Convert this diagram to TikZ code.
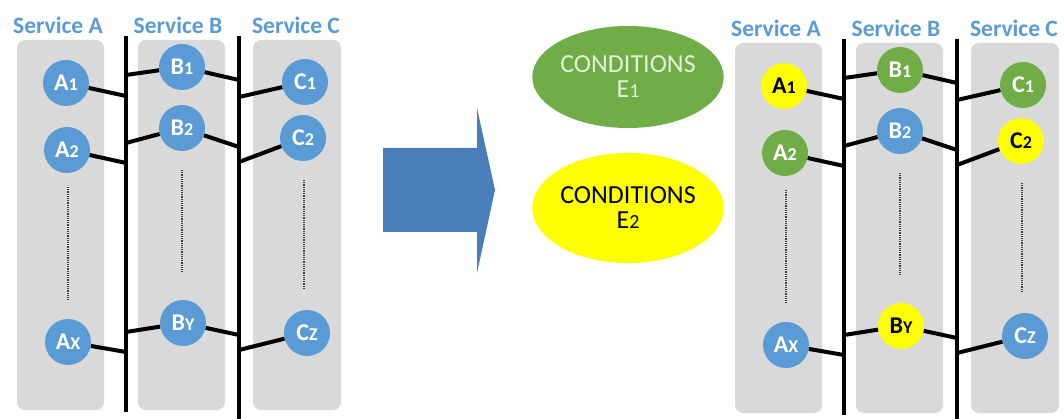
\documentclass[tikz,border=0pt]{standalone}
\usepackage{fontspec}
\setmainfont{Carlito}
\usetikzlibrary{shapes.geometric}

\definecolor{svcblue}{HTML}{5B9BD5}
\definecolor{svcgreen}{HTML}{70AD47}
\definecolor{svcyellow}{HTML}{FFFF00}
\definecolor{panelgray}{HTML}{D9D9D9}
\definecolor{arrowblue}{HTML}{4A7EBB}
\definecolor{paletext}{HTML}{E6F0DC}

% smaller index after the service letter
\newcommand\idx[1]{{\fontsize{18}{18}\selectfont #1}}
\newcommand\cidx[1]{{\fontsize{20}{20}\selectfont #1}}

\tikzset{
  panel/.style={fill=panelgray, draw=none, rounded corners=8pt},
  title/.style={text=svcblue, font=\fontsize{23.5}{23.5}\selectfont\bfseries, inner sep=0pt},
  svc/.style={circle, minimum size=46pt, inner sep=0pt, draw=none,
              font=\fontsize{24}{24}\selectfont\bfseries},
  bluesvc/.style={svc, fill=svcblue, text=white},
  greensvc/.style={svc, fill=svcgreen, text=white},
  yellowsvc/.style={svc, fill=svcyellow, text=black},
  bus/.style={line width=4.2pt, black},
  link/.style={line width=4pt, black},
  dots/.style={line width=1.5pt, gray!50!black, dash pattern=on 1.2pt off 1pt},
  cond/.style={ellipse, draw=none, inner sep=0pt, align=center,
               font=\fontsize{26}{25}\selectfont},
}

% one group of three services joined by two buses
% #1 prefix, #2 x shift, #3 y shift
% node colours come from \cAa \cAb \cAx \cBa \cBb \cBy \cCa \cCb \cCz
\newcommand\servicegroup[3]{%
  \begin{scope}[shift={(#2,#3)}]
    \fill[panel] (17,40) rectangle (104,410);
    \fill[panel] (138,40) rectangle (225,410);
    \fill[panel] (253,40) rectangle (341,410);
    \node[title] (#1tA) at (58,25) {Service A};
    \node[title] (#1tB) at (178,25) {Service B};
    \node[title] (#1tC) at (296,25) {Service C};
    % buses
    \coordinate (#1Lt) at (126,36);  \coordinate (#1Lb) at (126,412);
    \coordinate (#1Rt) at (239,36);  \coordinate (#1Rb) at (239,419);
    \draw[bus] (#1Lt) -- (#1Lb);
    \draw[bus] (#1Rt) -- (#1Rb);
    % elided instances
    \coordinate (#1dAt) at (68,187); \coordinate (#1dAb) at (68,300);
    \coordinate (#1dBt) at (182,170); \coordinate (#1dBb) at (182,273);
    \coordinate (#1dCt) at (304,180); \coordinate (#1dCb) at (304,290);
    \draw[dots] (#1dAt) -- (#1dAb);
    \draw[dots] (#1dBt) -- (#1dBb);
    \draw[dots] (#1dCt) -- (#1dCb);
    % service instances
    \node[\cAa] (#1A1) at (66,83) {A\idx{1}};
    \node[\cAb] (#1A2) at (67,150) {A\idx{2}};
    \node[\cAx] (#1Ax) at (68,342) {A\idx{X}};
    \node[\cBa] (#1B1) at (182,67) {B\idx{1}};
    \node[\cBb] (#1B2) at (182,128) {B\idx{2}};
    \node[\cBy] (#1By) at (183,323) {B\idx{Y}};
    \node[\cCa] (#1C1) at (305,82) {C\idx{1}};
    \node[\cCb] (#1C2) at (303,138) {C\idx{2}};
    \node[\cCz] (#1Cz) at (307,333) {C\idx{Z}};
    % taps on the buses
    \coordinate (#1jA1) at (126,96);  \coordinate (#1jB1l) at (126,75);
    \coordinate (#1jA2) at (126,163); \coordinate (#1jB2l) at (126,143);
    \coordinate (#1jAx) at (126,352); \coordinate (#1jByl) at (126,332);
    \coordinate (#1jB1r) at (239,80); \coordinate (#1jC1) at (239,97);
    \coordinate (#1jB2r) at (239,147); \coordinate (#1jC2) at (239,162);
    \coordinate (#1jByr) at (239,335); \coordinate (#1jCz) at (239,350);
    \draw[link] (#1A1) -- (#1jA1);
    \draw[link] (#1jB1l) -- (#1B1);
    \draw[link] (#1B1) -- (#1jB1r);
    \draw[link] (#1jC1) -- (#1C1);
    \draw[link] (#1A2) -- (#1jA2);
    \draw[link] (#1jB2l) -- (#1B2);
    \draw[link] (#1B2) -- (#1jB2r);
    \draw[link] (#1jC2) -- (#1C2);
    \draw[link] (#1Ax) -- (#1jAx);
    \draw[link] (#1jByl) -- (#1By);
    \draw[link] (#1By) -- (#1jByr);
    \draw[link] (#1jCz) -- (#1Cz);
  \end{scope}}

\begin{document}
\begin{tikzpicture}[x=1pt, y=-1pt]
  \useasboundingbox[fill=white] (0,0) rectangle (1064,419);

  % before: every instance plain
  \def\cAa{bluesvc}\def\cAb{bluesvc}\def\cAx{bluesvc}
  \def\cBa{bluesvc}\def\cBb{bluesvc}\def\cBy{bluesvc}
  \def\cCa{bluesvc}\def\cCb{bluesvc}\def\cCz{bluesvc}
  \servicegroup{l}{0}{0}

  % transformation arrow
  \fill[arrowblue] (383,148) -- (477,148) -- (477,108) -- (495,190)
    -- (477,273) -- (477,232) -- (383,232) -- cycle;

  % condition legend
  \node[cond, fill=svcgreen, text=paletext, minimum width=166pt, minimum height=102pt]
    (e1) at (628,77) {CONDITIONS\\E\cidx{1}};
  \node[cond, fill=svcyellow, text=black, minimum width=166pt, minimum height=110pt]
    (e2) at (628,208) {CONDITIONS\\E\cidx{2}};

  % after: instances coloured by condition
  \def\cAa{yellowsvc}\def\cAb{greensvc}\def\cAx{bluesvc}
  \def\cBa{greensvc}\def\cBb{bluesvc}\def\cBy{yellowsvc}
  \def\cCa{greensvc}\def\cCb{yellowsvc}\def\cCz{bluesvc}
  \servicegroup{r}{718}{3}
\end{tikzpicture}
\end{document}
